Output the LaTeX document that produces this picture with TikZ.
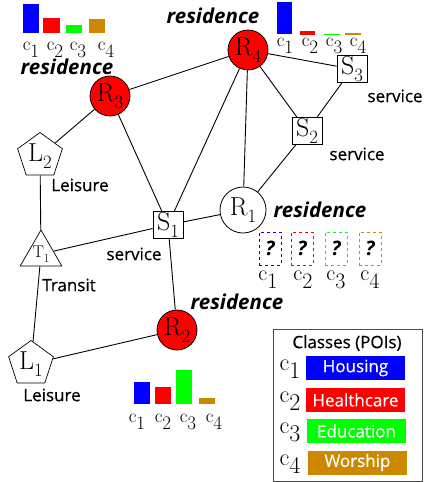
\documentclass[tikz,border=0pt]{standalone}
\usepackage{fontspec}
\usetikzlibrary{shapes.geometric}
\newfontfamily\sansf{Open Sans}[FakeBold=0.5]
\newfontfamily\hand{Open Sans}
\definecolor{cA}{RGB}{0,0,255}
\definecolor{cB}{RGB}{255,0,0}
\definecolor{cC}{RGB}{0,255,0}
\definecolor{cD}{RGB}{204,136,0}
\newcommand\cl[1]{c\raisebox{-0.37em}{#1}}
\newcommand\nl[2]{#1\raisebox{-0.28em}{\scalebox{0.72}{#2}}}
\tikzset{
  edge/.style={line width=0.9pt},
  res/.style={circle,draw,line width=0.8pt,fill=red,minimum size=40pt,inner sep=0pt,font=\fontsize{26}{26}\selectfont},
  resw/.style={res,fill=white,minimum size=46pt},
  srv/.style={rectangle,draw,line width=0.8pt,fill=white,minimum width=30pt,minimum height=27pt,inner sep=0pt,font=\fontsize{26}{26}\selectfont},
  leis/.style={regular polygon,regular polygon sides=5,draw,line width=0.7pt,fill=white,minimum size=47pt,inner sep=0pt,font=\fontsize{26}{26}\selectfont},
  tri/.style={regular polygon,regular polygon sides=3,draw,line width=0.7pt,fill=white,minimum size=47.4pt,inner sep=0pt,font=\fontsize{17}{17}\selectfont},
  rtxt/.style={font=\hand\bfseries\itshape\fontsize{20.5}{20.5}\selectfont,inner sep=0pt},
  ltxt/.style={font=\sansf\fontsize{17}{17}\selectfont,inner sep=0pt},
  ctxt/.style={font=\fontsize{19}{19}\selectfont,inner sep=0pt,anchor=base},
  ctxtb/.style={font=\fontsize{22}{22}\selectfont,inner sep=0pt,anchor=base},
  ctxtl/.style={font=\fontsize{24}{24}\selectfont,inner sep=0pt,anchor=base},
  qbox/.style={draw,dashed,line width=0.8pt,minimum width=22pt,minimum height=33pt,inner sep=0pt,font=\hand\bfseries\itshape\fontsize{20}{20}\selectfont},
  legbox/.style={minimum width=99pt,minimum height=24pt,inner sep=0pt,text=white,font=\sansf\fontsize{17}{17}\selectfont}
}
\begin{document}
\begin{tikzpicture}[x=1pt,y=-1pt]
\useasboundingbox (0,0) rectangle (428,482);
% nodes
\node[res] (R4) at (248,50) {\nl{R}{4}};
\node[res] (R3) at (110,96) {\nl{R}{3}};
\node[srv] (S3) at (352,69) {\nl{S}{3}};
\node[srv] (S2) at (307,131) {\nl{S}{2}};
\node[leis] (L2) at (40,156) {\nl{L}{2}};
\node[srv] (S1) at (168,225) {\nl{S}{1}};
\node[resw] (R1) at (243,210) {\nl{R}{1}};
\node[tri] (T1) at (41,254) {\nl{T}{1}};
\node[res] (R2) at (177,330) {\nl{R}{2}};
\node[leis] (L1) at (31,364) {\nl{L}{1}};
% edges
\draw[edge] (R3) -- (R4);
\draw[edge] (R3) -- (L2);
\draw[edge] (R3) -- (S1);
\draw[edge] (R4) -- (S1);
\draw[edge] (R4) -- (R1);
\draw[edge] (R4) -- (S2);
\draw[edge] (R4) -- (S3);
\draw[edge] (S3) -- (S2);
\draw[edge] (S2) -- (R1);
\draw[edge] (S1) -- (R1);
\draw[edge] (S1) -- (T1);
\draw[edge] (S1) -- (R2);
\draw[edge] (L2) -- (T1);
\draw[edge] (T1) -- (L1);
\draw[edge] (L1) -- (R2);
% labels
\node[rtxt] (tR3) at (67,67) {residence};
\node[rtxt] (tR4) at (213,16) {residence};
\node[rtxt] (tR1) at (320,210) {residence};
\node[rtxt] (tR2) at (237,302) {residence};
\node[ltxt] (tS3) at (395,96) {service};
\node[ltxt] (tS2) at (357,154) {service};
\node[ltxt] (tS1) at (134,254) {service};
\node[ltxt] (tL2) at (80,185) {Leisure};
\node[ltxt] (tT1) at (69,285) {Transit};
\node[ltxt] (tL1) at (52,395) {Leisure};
% bars top left
\fill[cA] (23,4) rectangle (39,33);
\fill[cB] (43,18) rectangle (60,33);
\fill[cC] (66,25) rectangle (82,33);
\fill[cD] (89,19) rectangle (105,33);
\node[ctxt] (a1) at (31,50) {\cl{1}};
\node[ctxt] (a2) at (55,50) {\cl{2}};
\node[ctxt] (a3) at (78,50) {\cl{3}};
\node[ctxt] (a4) at (106,50) {\cl{4}};
% bars top right
\fill[cA] (277,2) rectangle (292,34);
\fill[cB] (300,31) rectangle (315,35);
\fill[cC] (324,33.5) rectangle (340,35);
\fill[cD] (345,33.3) rectangle (361,35);
\node[ctxt] (b1) at (285,46) {\cl{1}};
\node[ctxt] (b2) at (310,46) {\cl{2}};
\node[ctxt] (b3) at (334,46) {\cl{3}};
\node[ctxt] (b4) at (358,46) {\cl{4}};
% bars bottom
\fill[cA] (134,382) rectangle (150,404);
\fill[cB] (155,387) rectangle (171,404);
\fill[cC] (176,370) rectangle (192,404);
\fill[cD] (199,398) rectangle (215,404);
\node[ctxt] (d1) at (137,422) {\cl{1}};
\node[ctxt] (d2) at (163,422) {\cl{2}};
\node[ctxt] (d3) at (188,422) {\cl{3}};
\node[ctxt] (d4) at (214,422) {\cl{4}};
% unknown boxes
\node[qbox,draw=cA] (q1) at (270,248.5) {?};
\node[qbox,draw=cB] (q2) at (302,248.5) {?};
\node[qbox,draw=cC] (q3) at (336,248.5) {?};
\node[qbox,draw=cD] (q4) at (370,248.5) {?};
\node[ctxtb] (e1) at (268,280) {\cl{1}};
\node[ctxtb] (e2) at (303,280) {\cl{2}};
\node[ctxtb] (e3) at (336,280) {\cl{3}};
\node[ctxtb] (e4) at (370,280) {\cl{4}};
% legend
\draw[line width=0.8pt,black!70] (273,329) rectangle (422,481);
\node[ltxt] (lt) at (347,343) {Classes (POIs)};
\node[ctxtl] (g1) at (290,370) {\cl{1}};
\node[ctxtl] (g2) at (290,402) {\cl{2}};
\node[ctxtl] (g3) at (290,433) {\cl{3}};
\node[ctxtl] (g4) at (290,465) {\cl{4}};
\node[legbox,fill=cA] (h1) at (355.5,368) {Housing};
\node[legbox,fill=cB] (h2) at (355.5,400) {Healthcare};
\node[legbox,fill=cC] (h3) at (356.5,431) {Education};
\node[legbox,fill=cD] (h4) at (357.5,462.5) {Worship};
\end{tikzpicture}
\end{document}
